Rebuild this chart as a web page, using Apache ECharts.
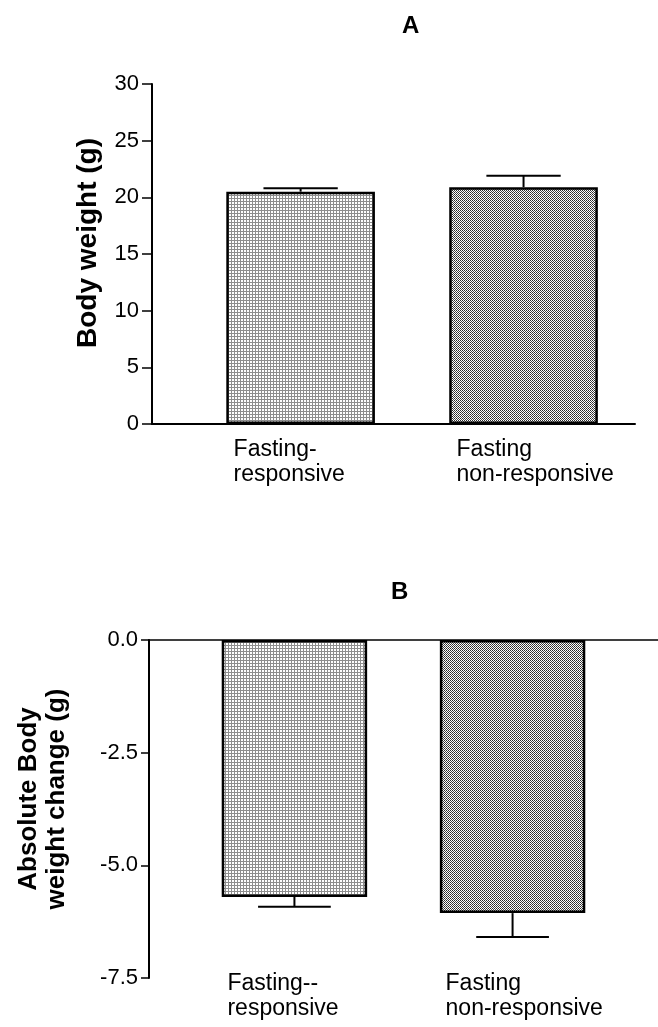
<!DOCTYPE html>
<html>
<head>
<meta charset="utf-8">
<script src="https://cdn.jsdelivr.net/npm/echarts@6/dist/echarts.min.js"></script>
<style>
  html, body { margin: 0; padding: 0; background: #fff; }
  #chart { width: 658px; height: 1027px; }
</style>
</head>
<body>
<div id="chart"></div>
<script>
// Panel A: body weight (g), mean ± SEM
const categoriesA = ['Fasting-\nresponsive', 'Fasting\nnon-responsive'];
const bodyWeight = [20.5, 20.9];
const bodyWeightErr = [0.3, 1.0];
const ticksA = { min: 0, max: 30, interval: 5 };

// Panel B: absolute body weight change (g), mean ± SEM
const categoriesB = ['Fasting--\nresponsive', 'Fasting\nnon-responsive'];
const weightChange = [-5.7, -6.06];
const weightChangeErr = [0.22, 0.53];
const ticksB = { min: -7.5, max: 0, interval: 2.5 };

const FONT = '"Liberation Sans", Arial, sans-serif';

// Plot areas
const gridA = { left: 152, top: 84, width: 483, height: 340 };
const gridB = { left: 149, top: 640, width: 509, height: 338 };
// Each group occupies 3 slot units on the x value axis: 1 gap + 2 bar
const xMaxA = 6.5, xMaxB = 7;
const slotOf = i => 2 + 3 * i;

function makePattern(kind) {
  const c = document.createElement('canvas');
  if (kind === 'light') {
    c.width = 3; c.height = 3;
    const g = c.getContext('2d');
    g.fillStyle = '#8e8e8e'; g.fillRect(0, 0, 3, 3);
    g.fillStyle = '#ffffff'; g.fillRect(1, 1, 2, 2);
  } else {
    c.width = 2; c.height = 2;
    const g = c.getContext('2d');
    g.fillStyle = '#ffffff'; g.fillRect(0, 0, 2, 2);
    g.fillStyle = '#2a2a2a'; g.fillRect(0, 0, 1, 1);
    g.fillStyle = '#484848'; g.fillRect(1, 1, 1, 1);
  }
  return { image: c, repeat: 'repeat' };
}
const fills = [makePattern('light'), makePattern('dark')];

function barData(values) {
  return values.map((v, i) => ({
    value: [slotOf(i), v],
    itemStyle: { color: fills[i], borderColor: '#000', borderWidth: 2.5 }
  }));
}
function errData(values, errs) {
  return values.map((v, i) => [slotOf(i), v, v >= 0 ? v + errs[i] : v - errs[i]]);
}
function renderErr(params, api) {
  const x = api.value(0);
  const p0 = api.coord([x, api.value(1)]);
  const p1 = api.coord([x, api.value(2)]);
  const half = api.size([0.5, 0])[0];
  const style = { stroke: '#000', lineWidth: 2, fill: null };
  return {
    type: 'group',
    children: [
      { type: 'line', shape: { x1: p0[0], y1: p0[1], x2: p1[0], y2: p1[1] }, style },
      { type: 'line', shape: { x1: p1[0] - half, y1: p1[1], x2: p1[0] + half, y2: p1[1] }, style }
    ]
  };
}
function catLabel(cats, margin) {
  return {
    show: true,
    customValues: cats.map((_, i) => slotOf(i)),
    formatter: v => {
      const i = Math.round((v - 2) / 3);
      return cats[i].split('\n').map(s => '{t|' + s + '}').join('\n');
    },
    margin: margin,
    rich: { t: { width: 134, align: 'left', fontSize: 23, lineHeight: 25, fontFamily: FONT, color: '#000' } }
  };
}

const chart = echarts.init(document.getElementById('chart'), null, { renderer: 'canvas' });
chart.setOption({
  backgroundColor: '#fff',
  animation: false,
  title: [
    { text: 'A', left: 402, top: 14, padding: 0,
      textStyle: { fontFamily: FONT, fontSize: 24, fontWeight: 'bold', color: '#000' } },
    { text: 'B', left: 391, top: 580, padding: 0,
      textStyle: { fontFamily: FONT, fontSize: 24, fontWeight: 'bold', color: '#000' } }
  ],
  grid: [
    Object.assign({ containLabel: false }, gridA),
    Object.assign({ containLabel: false }, gridB)
  ],
  xAxis: [
    { type: 'value', gridIndex: 0, min: 0, max: xMaxA, position: 'bottom',
      axisLine: { show: true, lineStyle: { color: '#000', width: 2 } },
      axisTick: { show: false }, splitLine: { show: false },
      axisLabel: catLabel(categoriesA, 13) },
    { type: 'value', gridIndex: 1, min: 0, max: xMaxB, position: 'bottom',
      axisLine: { show: false }, axisTick: { show: false }, splitLine: { show: false },
      axisLabel: catLabel(categoriesB, -7) },
    { type: 'value', gridIndex: 1, min: 0, max: xMaxB, position: 'top',
      axisLine: { show: true, onZero: false, lineStyle: { color: '#000', width: 1.5 } },
      axisTick: { show: false }, splitLine: { show: false }, axisLabel: { show: false } }
  ],
  yAxis: [
    { type: 'value', gridIndex: 0, min: ticksA.min, max: ticksA.max, interval: ticksA.interval,
      name: 'Body weight (g)', nameLocation: 'middle', nameRotate: 90, nameGap: 50,
      nameTextStyle: { fontFamily: FONT, fontSize: 28, fontWeight: 'bold', color: '#000',
        padding: [0, 0, 0, 22] },
      axisLine: { show: true, lineStyle: { color: '#000', width: 2 } },
      axisTick: { show: true, inside: false, length: 10, lineStyle: { color: '#000', width: 1.5 } },
      splitLine: { show: false },
      axisLabel: { margin: 13, fontFamily: FONT, fontSize: 22, color: '#000' } },
    { type: 'value', gridIndex: 1, min: ticksB.min, max: ticksB.max, interval: ticksB.interval,
      name: 'Absolute Body\nweight change (g)', nameLocation: 'middle', nameRotate: 90, nameGap: 78,
      nameTextStyle: { fontFamily: FONT, fontSize: 26, fontWeight: 'bold', color: '#000', lineHeight: 28,
        padding: [0, 0, 0, 20] },
      axisLine: { show: true, onZero: false, lineStyle: { color: '#000', width: 2 } },
      axisTick: { show: true, inside: false, length: 8, lineStyle: { color: '#000', width: 1.5 } },
      splitLine: { show: false },
      axisLabel: { margin: 11, fontFamily: FONT, fontSize: 22, color: '#000', formatter: v => v.toFixed(1) } }
  ],
  series: [
    { type: 'bar', xAxisIndex: 0, yAxisIndex: 0, barWidth: gridA.width / xMaxA * 2,
      data: barData(bodyWeight), z: 2 },
    { type: 'custom', xAxisIndex: 0, yAxisIndex: 0, renderItem: renderErr,
      data: errData(bodyWeight, bodyWeightErr), z: 3 },
    { type: 'bar', xAxisIndex: 1, yAxisIndex: 1, barWidth: gridB.width / xMaxB * 2,
      data: barData(weightChange), z: 2 },
    { type: 'custom', xAxisIndex: 1, yAxisIndex: 1, renderItem: renderErr,
      data: errData(weightChange, weightChangeErr), z: 3 }
  ]
});
</script>
</body>
</html>
